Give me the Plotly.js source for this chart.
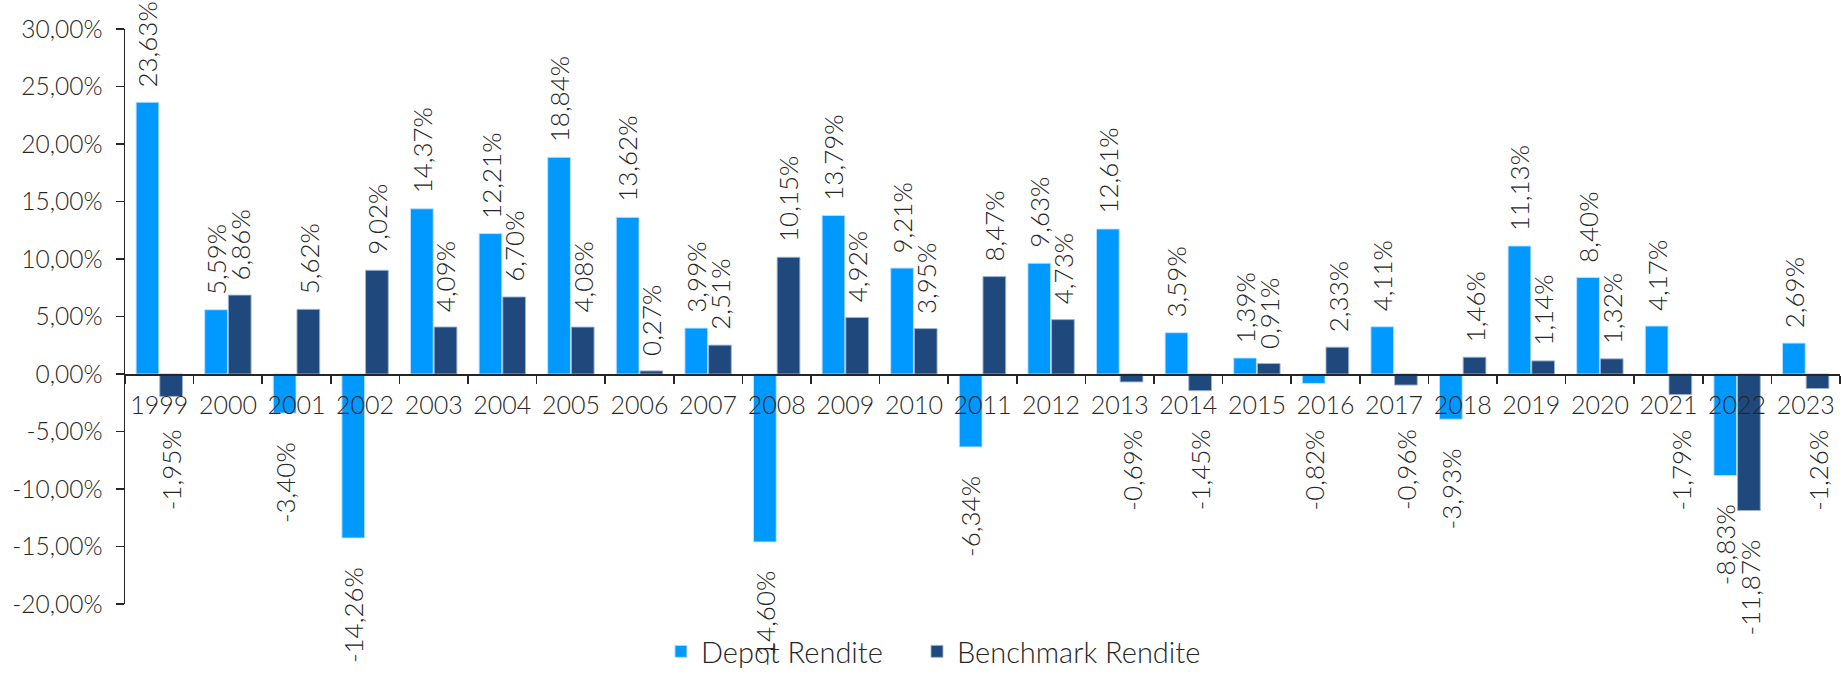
<!DOCTYPE html>
<html>
<head>
<meta charset="utf-8">
<script src="https://cdn.plot.ly/plotly-3.0.1.min.js"></script>
<style>html,body{margin:0;padding:0;background:#fff;}#chart{width:1841px;height:677px;}</style>
</head>
<body>
<div id="chart"></div>
<script>
var years = ['1999','2000','2001','2002','2003','2004','2005','2006','2007','2008','2009','2010','2011','2012','2013','2014','2015','2016','2017','2018','2019','2020','2021','2022','2023'];
var depotRendite = [23.63, 5.59, -3.40, -14.26, 14.37, 12.21, 18.84, 13.62, 3.99, -14.60, 13.79, 9.21, -6.34, 9.63, 12.61, 3.59, 1.39, -0.82, 4.11, -3.93, 11.13, 8.40, 4.17, -8.83, 2.69];
var benchmarkRendite = [-1.95, 6.86, 5.62, 9.02, 4.09, 6.70, 4.08, 0.27, 2.51, 10.15, 4.92, 3.95, 8.47, 4.73, -0.69, -1.45, 0.91, 2.33, -0.96, 1.46, 1.14, 1.32, -1.79, -11.87, -1.26];
var yTickVals = [-20, -15, -10, -5, 0, 5, 10, 15, 20, 25, 30];
var seriesNames = ['Depot Rendite', 'Benchmark Rendite'];

function fmt(v) { return v.toFixed(2).replace('.', ',') + '%'; }

var textColor = '#262626';
var fontFam = 'Lato, "Noto Sans", sans-serif';
var fontW = 300;
var colors = ['#0099FF', '#1F497D'];
var lineColors = ['rgba(190,225,255,0.9)', 'rgba(160,180,210,0.9)'];
var legendIds = ['legend', 'legend2'];

var traces = [depotRendite, benchmarkRendite].map(function (vals, i) {
  return {
    type: 'bar',
    name: seriesNames[i],
    x: years,
    y: vals,
    legend: legendIds[i],
    marker: { color: colors[i], line: { color: lineColors[i], width: 1 } },
    hoverinfo: 'x+y'
  };
});

var annotations = [];
[depotRendite, benchmarkRendite].forEach(function (vals, i) {
  vals.forEach(function (v, k) {
    var pos = v >= 0;
    annotations.push({
      x: k,
      y: pos ? v : Math.min(v, -2.3),
      xref: 'x', yref: 'y',
      xshift: i === 0 ? -12 : 12,
      yshift: pos ? 13 : -27,
      text: fmt(v),
      textangle: -90,
      showarrow: false,
      xanchor: 'center',
      yanchor: pos ? 'bottom' : 'top',
      font: { family: fontFam, size: 26, color: textColor, weight: fontW }
    });
  });
});

var legendFont = { family: fontFam, size: 29, color: textColor, weight: fontW };

var layout = {
  width: 1841,
  height: 677,
  margin: { l: 125, r: 1, t: 29, b: 73, autoexpand: false },
  paper_bgcolor: '#ffffff',
  plot_bgcolor: '#ffffff',
  bargap: 0.31,
  bargroupgap: 0.04,
  barmode: 'group',
  showlegend: true,
  legend: {
    orientation: 'h',
    x: 0.3125, xanchor: 'left',
    yref: 'container', y: 0, yanchor: 'bottom',
    bgcolor: 'rgba(0,0,0,0)',
    font: legendFont
  },
  legend2: {
    orientation: 'h',
    x: 0.4618, xanchor: 'left',
    yref: 'container', y: 0, yanchor: 'bottom',
    bgcolor: 'rgba(0,0,0,0)',
    font: legendFont
  },
  xaxis: {
    type: 'category',
    range: [-0.5, years.length - 0.5],
    autorange: false,
    anchor: 'free',
    position: 0.4,
    showline: true,
    linecolor: textColor,
    linewidth: 1.5,
    ticks: 'outside',
    tickson: 'boundaries',
    ticklen: 8,
    tickcolor: textColor,
    tickwidth: 1.5,
    showgrid: false,
    zeroline: false,
    tickangle: 0,
    ticklabelstandoff: 8,
    automargin: false,
    tickfont: { family: fontFam, size: 25, color: textColor, weight: fontW }
  },
  yaxis: {
    range: [-20, 30],
    autorange: false,
    tickmode: 'array',
    tickvals: yTickVals,
    ticktext: yTickVals.map(function (v) { return v.toFixed(2).replace('.', ',') + '%'; }),
    showline: true,
    linecolor: textColor,
    linewidth: 1.5,
    ticks: 'outside',
    ticklen: 8,
    tickcolor: textColor,
    tickwidth: 1.5,
    showgrid: false,
    zeroline: false,
    automargin: false,
    ticklabelstandoff: 8,
    tickfont: { family: fontFam, size: 24.5, color: textColor, weight: fontW }
  },
  annotations: annotations
};

Plotly.newPlot('chart', traces, layout, { displayModeBar: false, staticPlot: true });
</script>
</body>
</html>
